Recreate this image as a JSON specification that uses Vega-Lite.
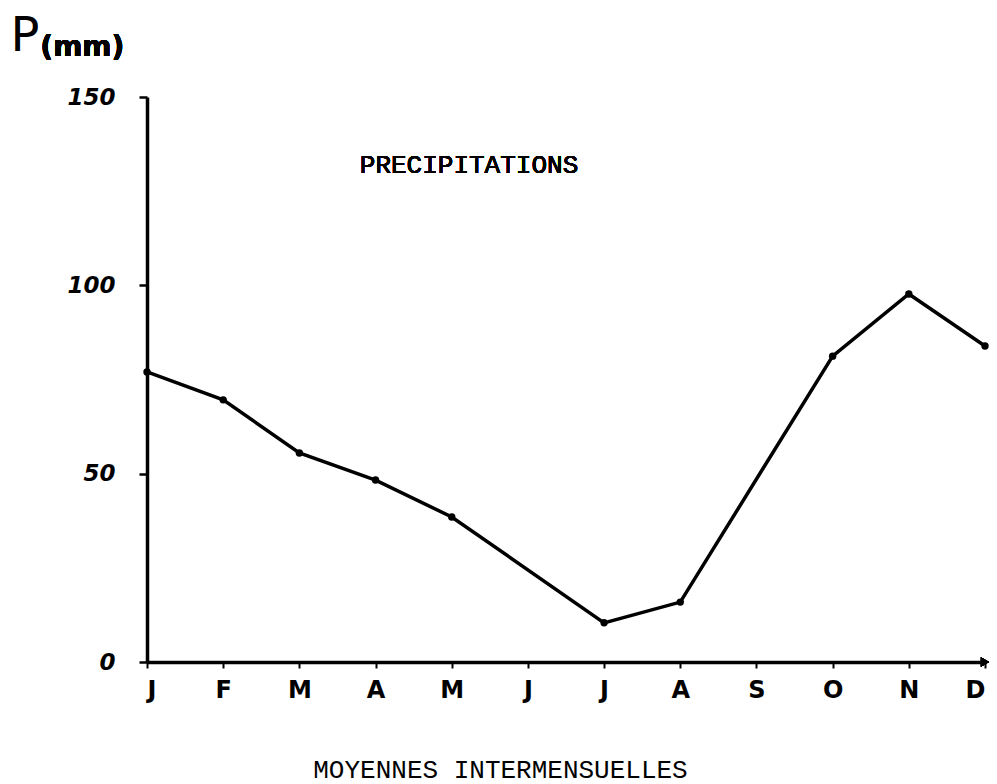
{
  "$schema": "https://vega.github.io/schema/vega-lite/v6.json",
  "autosize": "none",
  "width": 838,
  "height": 565,
  "padding": {"left": 147, "top": 97, "right": 12, "bottom": 122},
  "background": "white",
  "config": {"view": {"stroke": null}},
  "data": {
    "values": [
      {"mois": 1, "p": 77.0},
      {"mois": 2, "p": 69.6},
      {"mois": 3, "p": 55.5},
      {"mois": 4, "p": 48.3},
      {"mois": 5, "p": 38.5},
      {"mois": 7, "p": 10.4},
      {"mois": 8, "p": 15.9},
      {"mois": 10, "p": 81.2},
      {"mois": 11, "p": 97.7},
      {"mois": 12, "p": 83.9}
    ]
  },
  "layer": [
    {
      "mark": {"type": "line", "color": "black", "strokeWidth": 3.5, "point": {"filled": true, "color": "black", "size": 55}},
      "encoding": {
        "x": {
          "field": "mois", "type": "quantitative",
          "scale": {"domain": [1, 12], "nice": false, "zero": false},
          "axis": {
            "values": [1,2,3,4,5,6,7,8,9,10,11,12],
            "labelExpr": "['J','F','M','A','M','J','J','A','S','O','N','D'][datum.value-1]",
            "grid": false,
            "domainColor": "black", "domainWidth": 3.5,
            "tickColor": "black", "tickWidth": 2, "tickSize": 6,
            "labelFont": "DejaVu Sans", "labelFontWeight": "bold", "labelFontSize": 24, "labelColor": "black",
            "labelPadding": 10,
            "title": "MOYENNES INTERMENSUELLES",
            "titleFont": "Liberation Mono", "titleFontSize": 26, "titleFontWeight": "normal", "titleColor": "black",
            "titleAnchor": null, "titleAlign": "center", "titleBaseline": "alphabetic",
            "titleX": 353, "titleY": 115
          }
        },
        "y": {
          "field": "p", "type": "quantitative",
          "scale": {"domain": [0, 150], "nice": false},
          "axis": {
            "values": [0, 50, 100, 150],
            "grid": false,
            "domainColor": "black", "domainWidth": 3.5,
            "tickColor": "black", "tickWidth": 2.5, "tickSize": 8,
            "labelFont": "DejaVu Sans", "labelFontWeight": "bold", "labelFontStyle": "italic", "labelFontSize": 23, "labelColor": "black",
            "labelPadding": 24,
            "title": "P",
            "titleFont": "DejaVu Sans", "titleFontSize": 48, "titleFontWeight": "normal", "titleColor": "black",
            "titleAngle": 0, "titleAnchor": null, "titleAlign": "left", "titleBaseline": "alphabetic",
            "titleX": -137, "titleY": -47
          }
        }
      }
    },
    {
      "mark": {"type": "point", "shape": "triangle-right", "filled": true, "color": "black", "size": 90, "opacity": 1},
      "encoding": {"x": {"datum": 12}, "y": {"datum": 0}}
    },
    {
      "mark": {"type": "text", "text": "PRECIPITATIONS", "font": "Liberation Mono", "fontSize": 26, "fontWeight": "normal", "align": "center", "baseline": "alphabetic", "color": "black"},
      "encoding": {"x": {"datum": 5.227}, "y": {"datum": 129.8}}
    },
    {
      "mark": {"type": "text", "text": "(mm)", "font": "DejaVu Sans", "fontSize": 28, "fontWeight": "bold", "align": "left", "baseline": "alphabetic", "color": "black"},
      "encoding": {"x": {"datum": -0.4}, "y": {"datum": 160.9}}
    }
  ]
}
